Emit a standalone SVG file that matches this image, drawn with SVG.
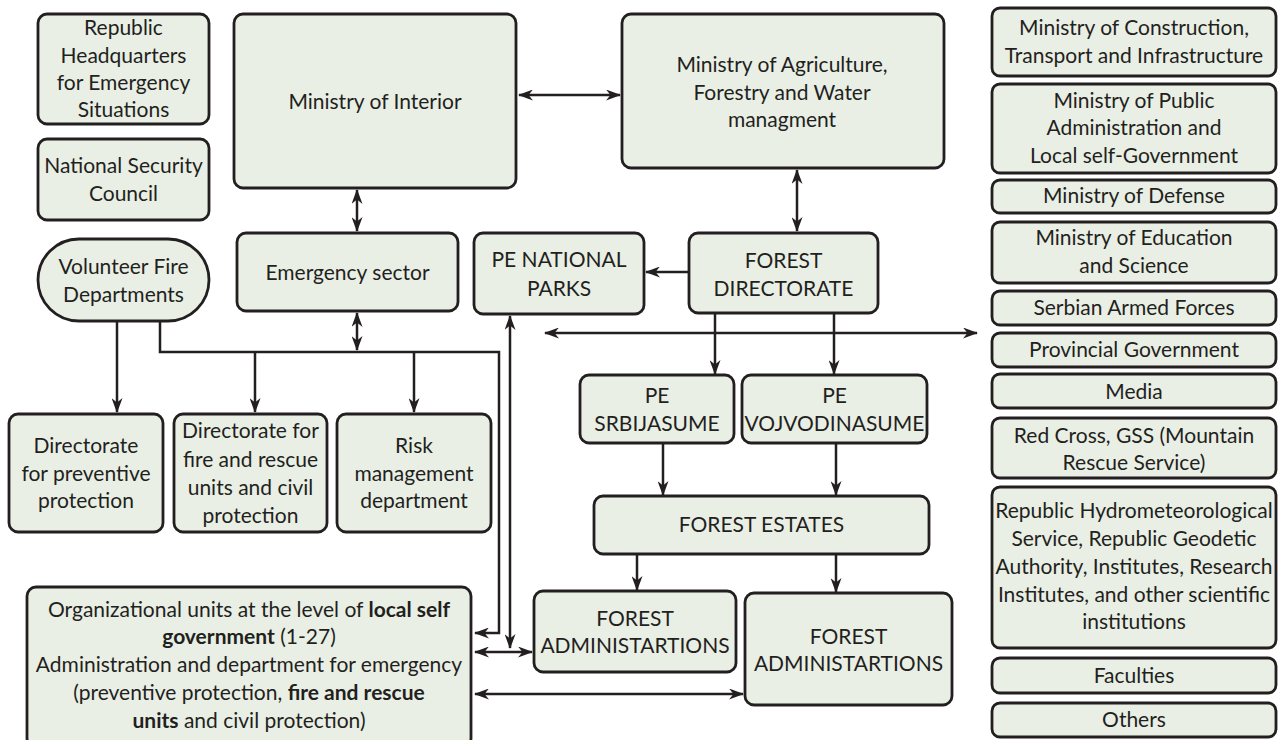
<svg xmlns="http://www.w3.org/2000/svg" width="1279" height="740" viewBox="0 0 1279 740">
<style>
.box{fill:#e9efe5;stroke:#231f20;stroke-width:2.8}
.t{font-family:Lato,"Liberation Sans",sans-serif;font-size:21px;fill:#231f20;text-anchor:middle}
.b{font-weight:bold}
.c{fill:none;stroke:#231f20;stroke-width:2.5}
.a{marker-end:url(#ah)}
.d{marker-start:url(#ah);marker-end:url(#ah)}
</style>
<defs>
<marker id="ah" viewBox="0 0 15 11" refX="14" refY="5.5" markerWidth="15" markerHeight="11" markerUnits="userSpaceOnUse" orient="auto-start-reverse">
<path d="M0,0 L15,5.5 L0,11 L4.5,5.5 z" fill="#231f20"/>
</marker>
</defs>
<rect width="1279" height="740" fill="#fff"/>

<g id="connectors">
<path class="c d" d="M519,95 H620"/>
<path class="c d" d="M357,190 V231"/>
<path class="c d" d="M357,313 V350"/>
<path class="c a" d="M117,321 V412"/>
<path class="c a" d="M160,321 V352 H499 V633 H475"/>
<path class="c a" d="M255,352 V412"/>
<path class="c a" d="M414,352 V412"/>
<path class="c d" d="M510,316 V648"/>
<path class="c d" d="M475,652 H532"/>
<path class="c d" d="M475,694 H743"/>
<path class="c a" d="M689,272 H646"/>
<path class="c d" d="M797,170 V231"/>
<path class="c d" d="M545,333 H977"/>
<path class="c a" d="M715,313 V374"/>
<path class="c a" d="M834,313 V374"/>
<path class="c a" d="M663,443 V495"/>
<path class="c a" d="M836,443 V495"/>
<path class="c a" d="M637,554 V590"/>
<path class="c a" d="M836,554 V592"/>
</g>

<g id="republic-hq">
<rect class="box" x="38" y="14" width="171" height="110" rx="9"/>
<text class="t" x="123.5" y="35">Republic<tspan x="123.5" dy="28">Headquarters</tspan><tspan x="123.5" dy="27">for Emergency</tspan><tspan x="123.5" dy="27">Situations</tspan></text>
</g>
<g id="national-security">
<rect class="box" x="38" y="139" width="171" height="81" rx="9"/>
<text class="t" x="123.5" y="173">National Security<tspan x="123.5" dy="28">Council</tspan></text>
</g>
<g id="volunteer">
<rect class="box" x="38" y="239" width="171" height="82" rx="41"/>
<text class="t" x="123.5" y="274">Volunteer Fire<tspan x="123.5" dy="28">Departments</tspan></text>
</g>
<g id="interior">
<rect class="box" x="234" y="14" width="282" height="174" rx="9"/>
<text class="t" x="375" y="109">Ministry of Interior</text>
</g>
<g id="emergency">
<rect class="box" x="237" y="233" width="221" height="78" rx="9"/>
<text class="t" x="347.5" y="280">Emergency sector</text>
</g>
<g id="dir-preventive">
<rect class="box" x="9" y="414" width="154" height="118" rx="9"/>
<text class="t" x="86" y="453">Directorate<tspan x="86" dy="28">for preventive</tspan><tspan x="86" dy="27">protection</tspan></text>
</g>
<g id="dir-fire">
<rect class="box" x="174" y="414" width="153" height="118" rx="9"/>
<text class="t" x="250.5" y="438">Directorate for<tspan x="250.5" dy="29">fire and rescue</tspan><tspan x="250.5" dy="28">units and civil</tspan><tspan x="250.5" dy="28">protection</tspan></text>
</g>
<g id="risk">
<rect class="box" x="337" y="414" width="154" height="118" rx="9"/>
<text class="t" x="414" y="453">Risk<tspan x="414" dy="28">management</tspan><tspan x="414" dy="27">department</tspan></text>
</g>
<g id="org-units">
<rect class="box" x="27" y="587" width="444" height="160" rx="9"/>
<text class="t" x="249" y="617">Organizational units at the level of <tspan class="b">local self</tspan></text>
<text class="t" x="249" y="644"><tspan class="b">government</tspan> (1-27)</text>
<text class="t" x="249" y="672">Administration and department for emergency</text>
<text class="t" x="249" y="700">(preventive protection, <tspan class="b">fire and rescue</tspan></text>
<text class="t" x="249" y="728"><tspan class="b">units</tspan> and civil protection)</text>
</g>
<g id="agriculture">
<rect class="box" x="622" y="14" width="322" height="154" rx="9"/>
<text class="t" x="782" y="72">Ministry of Agriculture,<tspan x="782" dy="28">Forestry and Water</tspan><tspan x="782" dy="27">managment</tspan></text>
</g>
<g id="pe-national-parks">
<rect class="box" x="474" y="233" width="170" height="81" rx="9"/>
<text class="t" x="559" y="267">PE NATIONAL<tspan x="559" dy="29">PARKS</tspan></text>
</g>
<g id="forest-directorate">
<rect class="box" x="689" y="233" width="189" height="80" rx="9"/>
<text class="t" x="783.5" y="268">FOREST<tspan x="783.5" dy="28">DIRECTORATE</tspan></text>
</g>
<g id="pe-srbijasume">
<rect class="box" x="580" y="375" width="154" height="68" rx="9"/>
<text class="t" x="657" y="403">PE<tspan x="657" dy="28">SRBIJASUME</tspan></text>
</g>
<g id="pe-vojvodinasume">
<rect class="box" x="742" y="375" width="185" height="68" rx="9"/>
<text class="t" x="834.5" y="403">PE<tspan x="834.5" dy="28">VOJVODINASUME</tspan></text>
</g>
<g id="forest-estates">
<rect class="box" x="594" y="496" width="335" height="58" rx="9"/>
<text class="t" x="761.5" y="532">FOREST ESTATES</text>
</g>
<g id="forest-admin-1">
<rect class="box" x="534" y="591" width="202" height="81" rx="9"/>
<text class="t" x="635" y="626">FOREST<tspan x="635" dy="27">ADMINISTARTIONS</tspan></text>
</g>
<g id="forest-admin-2">
<rect class="box" x="745" y="593" width="207" height="112" rx="9"/>
<text class="t" x="848.5" y="644">FOREST<tspan x="848.5" dy="27">ADMINISTARTIONS</tspan></text>
</g>

<g id="min-construction">
<rect class="box" x="992" y="8" width="284" height="68" rx="8"/>
<text class="t" x="1134" y="35">Ministry of Construction,<tspan x="1134" dy="28">Transport and Infrastructure</tspan></text>
</g>
<g id="min-public-admin">
<rect class="box" x="992" y="84" width="284" height="89" rx="8"/>
<text class="t" x="1134" y="108">Ministry of Public<tspan x="1134" dy="27">Administration and</tspan><tspan x="1134" dy="28">Local self-Government</tspan></text>
</g>
<g id="min-defense">
<rect class="box" x="992" y="180" width="284" height="33" rx="8"/>
<text class="t" x="1134" y="203">Ministry of Defense</text>
</g>
<g id="min-education">
<rect class="box" x="992" y="222" width="284" height="61" rx="8"/>
<text class="t" x="1134" y="245">Ministry of Education<tspan x="1134" dy="28">and Science</tspan></text>
</g>
<g id="armed-forces">
<rect class="box" x="992" y="291" width="284" height="34" rx="8"/>
<text class="t" x="1134" y="315">Serbian Armed Forces</text>
</g>
<g id="provincial">
<rect class="box" x="992" y="333" width="284" height="34" rx="8"/>
<text class="t" x="1134" y="357">Provincial Government</text>
</g>
<g id="media">
<rect class="box" x="992" y="374" width="284" height="34" rx="8"/>
<text class="t" x="1134" y="399">Media</text>
</g>
<g id="red-cross">
<rect class="box" x="992" y="418" width="284" height="60" rx="8"/>
<text class="t" x="1134" y="443">Red Cross, GSS (Mountain<tspan x="1134" dy="27">Rescue Service)</tspan></text>
</g>
<g id="hydromet">
<rect class="box" x="992" y="487" width="284" height="161" rx="8"/>
<text class="t" x="1134" y="518">Republic Hydrometeorological<tspan x="1134" dy="28">Service, Republic Geodetic</tspan><tspan x="1134" dy="28">Authority, Institutes, Research</tspan><tspan x="1134" dy="28">Institutes, and other scientific</tspan><tspan x="1134" dy="27">institutions</tspan></text>
</g>
<g id="faculties">
<rect class="box" x="992" y="658" width="284" height="35" rx="8"/>
<text class="t" x="1134" y="683">Faculties</text>
</g>
<g id="others">
<rect class="box" x="992" y="703" width="284" height="34" rx="8"/>
<text class="t" x="1134" y="727">Others</text>
</g>
</svg>
